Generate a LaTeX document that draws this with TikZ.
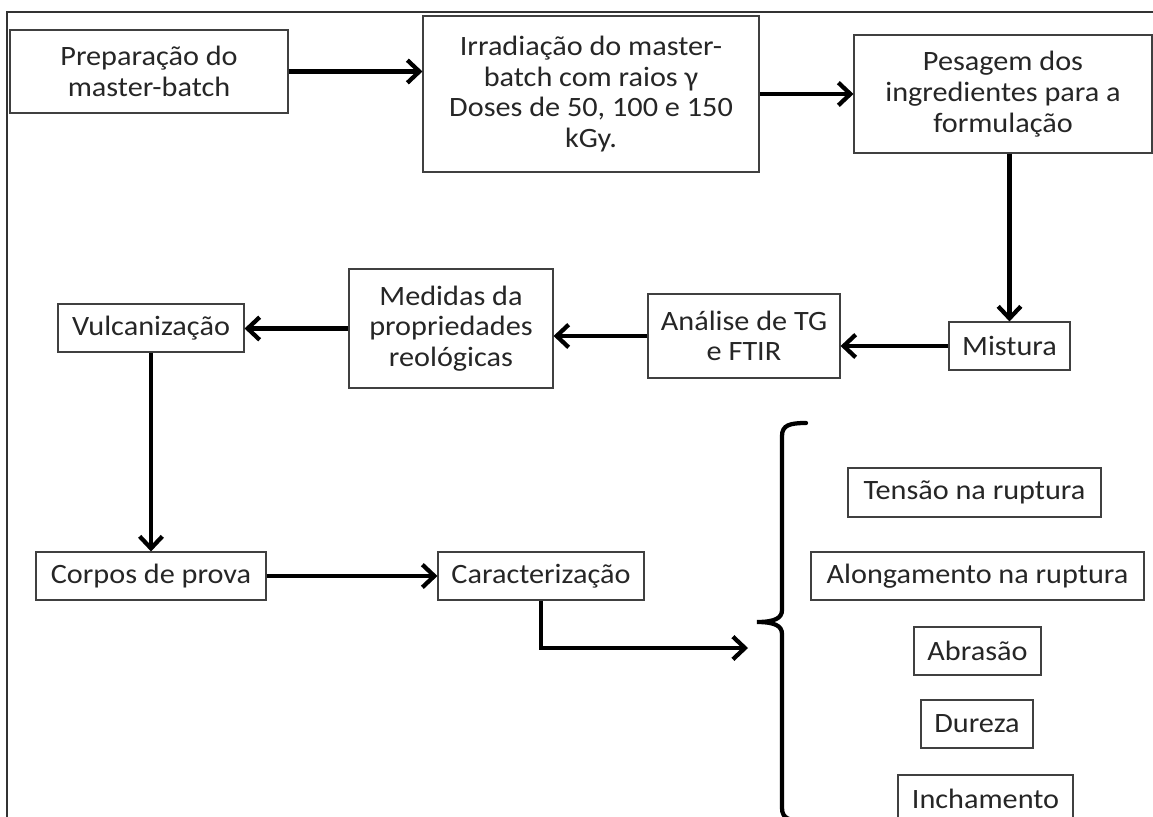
\documentclass[tikz,border=0pt]{standalone}
\usepackage{fontspec}
\setmainfont{Carlito}[FakeStretch=1.08]
\usetikzlibrary{arrows.meta}
\begin{document}
\begin{tikzpicture}[x=0.75pt,y=-0.75pt,
  box/.style={draw=black!75, line width=0.8pt, inner sep=0pt, align=center,
    font=\fontsize{21}{23}\selectfont, text=black!85},
  flow/.style={line width=3.2pt, -{Straight Barb[length=9pt,width=17pt]}},
  bracestyle/.style={line width=3.2pt, line cap=round},
  framestyle/.style={line width=1.5pt, draw=black!80}]
\useasboundingbox (0,0) rectangle (1153,817);
\clip (0,0) rectangle (1153,817);
\fill[white] (0,0) rectangle (1153,817);
\draw[framestyle] (7,817) -- (7,12) -- (1153,12);

\node[box, minimum width=208.5pt, minimum height=62.25pt] (b1) at (149,71.5) {Preparação do\\master-batch};
\node[box, minimum width=252pt, minimum height=117pt] (b2) at (591,94) {Irradiação do master-\\batch com raios γ\\Doses de 50, 100 e 150\\kGy.};
\node[box, minimum width=223.5pt, minimum height=88.5pt] (b3) at (1003,94) {Pesagem dos\\ingredientes para a\\formulação};
\node[box, minimum width=90.75pt, minimum height=36pt] (mis) at (1009.5,346) {Mistura};
\node[box, minimum width=144pt, minimum height=63pt] (ana) at (744,336) {Análise de TG\\e FTIR};
\node[box, minimum width=153pt, minimum height=89.25pt] (med) at (451,328.5) {Medidas da\\propriedades\\reológicas};
\node[box, minimum width=139.5pt, minimum height=36pt] (vul) at (151,328) {Vulcanização};
\node[box, minimum width=172.5pt, minimum height=36pt] (cor) at (151,576) {Corpos de prova};
\node[box, minimum width=154.5pt, minimum height=36pt] (car) at (541,576) {Caracterização};
\node[box, minimum width=189.75pt, minimum height=36.75pt] (ten) at (974.5,492.5) {Tensão na ruptura};
\node[box, minimum width=249.75pt, minimum height=36pt] (alo) at (977.5,576) {Alongamento na ruptura};
\node[box, minimum width=95.25pt, minimum height=36pt] (abr) at (977.5,651) {Abrasão};
\node[box, minimum width=84pt, minimum height=36pt] (dur) at (977,724) {Dureza};
\node[box, minimum width=131.25pt, minimum height=36pt] (inc) at (985.5,799) {Inchamento};

\draw[flow] (b1.east) -- (b1.east -| b2.west);
\draw[flow] (b2.east) -- (b2.east -| b3.west);
\draw[flow] (mis.north |- b3.south) -- (mis.north);
\draw[flow] (mis.west) -- (mis.west -| ana.east);
\draw[flow] (ana.west) -- (ana.west -| med.east);
\draw[flow] (med.west) -- (med.west -| vul.east);
\draw[flow] (vul.south) -- (cor.north);
\draw[flow] (cor.east) -- (cor.east -| car.west);
\coordinate (tip) at (748,648);
\draw[flow] (car.south) |- (tip);

\draw[bracestyle] (806,423) .. controls (790,423) and (782,425) .. (782,436)
  -- (782,610) .. controls (782,618) and (775,622) .. (757,622)
  .. controls (775,622) and (782,626) .. (782,634)
  -- (782,808) .. controls (782,819) and (790,821) .. (806,821);
\end{tikzpicture}
\end{document}
